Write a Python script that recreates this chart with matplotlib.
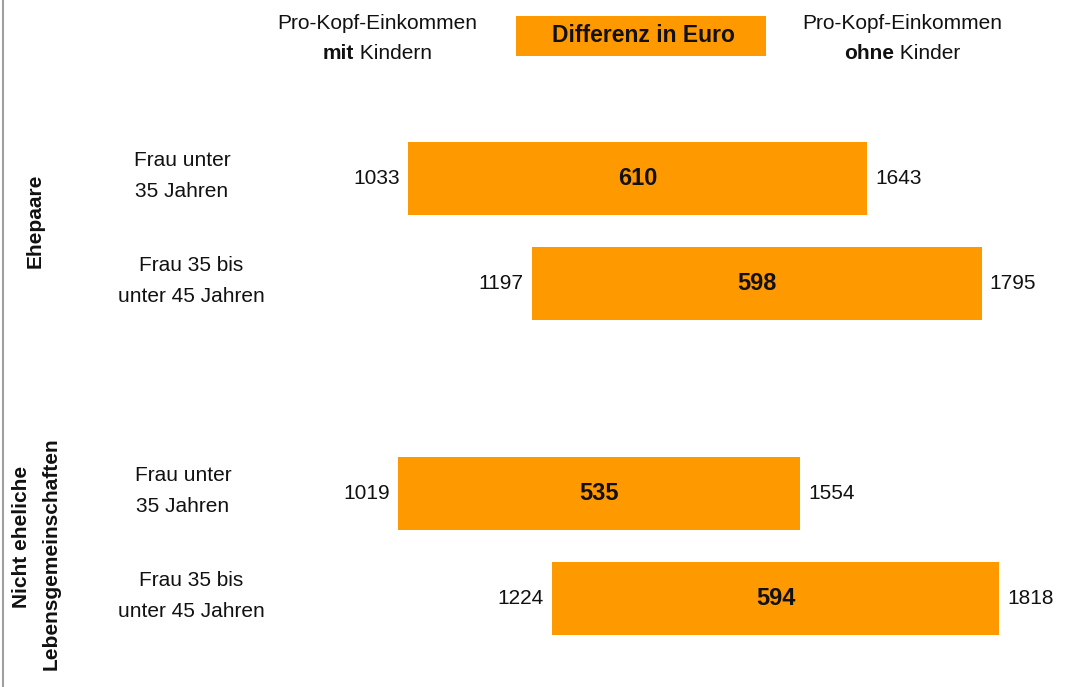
import matplotlib
matplotlib.use("Agg")
import matplotlib.pyplot as plt
import matplotlib.transforms as mtransforms
from matplotlib.patches import Rectangle

# ---- data ----
groups = ["Ehepaare", "Nicht eheliche\nLebensgemeinschaften"]
categories = ["Frau unter\n35 Jahren", "Frau 35 bis\nunter 45 Jahren",
              "Frau unter\n35 Jahren", "Frau 35 bis\nunter 45 Jahren"]
mit_kindern = [1033, 1197, 1019, 1224]
ohne_kinder = [1643, 1795, 1554, 1818]
differenz = [610, 598, 535, 594]

# ---- layout ----
W, H = 1072, 687
ORANGE = "#FF9900"
FONT = "Liberation Sans"
plt.rcParams["font.family"] = [FONT, "DejaVu Sans"]

fig = plt.figure(figsize=(W / 100, H / 100), dpi=100)
ax = fig.add_axes([0, 0, 1, 1])
ax.axis("off")
ax.set_xlim(491.0, 1914.9)
ypos = [0, 1, 3, 4]
ax.set_ylim(4.843, -1.70)

lefts = mit_kindern
widths = [o - m for o, m in zip(ohne_kinder, mit_kindern)]
ax.barh(ypos, widths, left=lefts, height=0.69, color=ORANGE, edgecolor="none")

fs = 15
for y, m, o, d in zip(ypos, mit_kindern, ohne_kinder, differenz):
    ax.annotate(str(m), xy=(m, y), xytext=(-8, 0), textcoords="offset pixels",
                ha="right", va="center", fontsize=fs, color="#111111")
    ax.annotate(str(o), xy=(o, y), xytext=(8, 0), textcoords="offset pixels",
                ha="left", va="center", fontsize=fs, color="#111111")
    ax.text((m + o) / 2, y, str(d), ha="center", va="center",
            fontsize=17, fontweight="bold", color="#111111")

# category labels (x in figure px, y in data)
blend = mtransforms.blended_transform_factory(fig.transFigure, ax.transData)
cat_x = [182, 191, 183, 191]
for y, lab, cx in zip(ypos, categories, cat_x):
    ax.text(cx / W, y - 0.02, lab, transform=blend, ha="center", va="center",
            fontsize=fs, linespacing=1.8, color="#111111")

# group labels
def fpx(x, y):
    return x / W, 1 - y / H

fig.text(*fpx(35, 221), groups[0], rotation=90, ha="center", va="center",
         fontsize=fs, fontweight="bold", color="#111111")
g2_lines = groups[1].split("\n")
for line, (gx, gy) in zip(g2_lines, [(22, 537), (51, 554)]):
    fig.text(*fpx(gx, gy), line, rotation=90, ha="center", va="center",
             fontsize=fs, fontweight="bold", color="#111111")

# left border line
fig.add_artist(plt.Line2D([3 / W, 3 / W], [0, 1], transform=fig.transFigure,
                          color="#a0a0a0", lw=1.5))

# header box
fig.add_artist(Rectangle(fpx(516, 56), (766 - 516) / W, (56 - 16) / H,
                         transform=fig.transFigure, facecolor=ORANGE,
                         edgecolor="none"))
fig.text(*fpx(643, 36), "Differenz in Euro", ha="center", va="center",
         fontsize=16.5, fontweight="bold", color="#111111")

renderer = fig.canvas.get_renderer()

def mixed_line(cx, ybase, parts):
    texts = []
    for s, w in parts:
        t = fig.text(0, 1 - ybase / H, s, ha="left", va="baseline",
                     fontsize=fs, fontweight=w, color="#111111")
        texts.append(t)
    wids = [t.get_window_extent(renderer).width for t in texts]
    x = cx - sum(wids) / 2
    for t, wd in zip(texts, wids):
        t.set_x(x / W)
        x += wd

mixed_line(377, 29, [("Pro-Kopf-Einkommen", "normal")])
mixed_line(377, 59, [("mit", "bold"), (" Kindern", "normal")])
mixed_line(902, 29, [("Pro-Kopf-Einkommen", "normal")])
mixed_line(902, 59, [("ohne", "bold"), (" Kinder", "normal")])

fig.savefig("out.png", dpi=100)
